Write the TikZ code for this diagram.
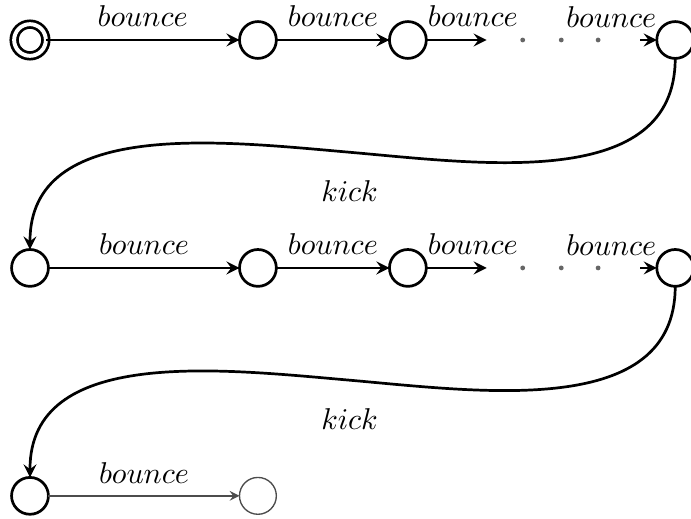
\documentclass[tikz,border=0pt]{standalone}
\usepackage{amsmath}
\usepackage{amssymb}
\usetikzlibrary{arrows,positioning}
\tikzstyle{edge}  =[->, >=stealth, line width=0.9pt]
\tikzstyle{faint} =[line width=0.45pt, draw=black!70]
\tikzstyle{state} =[draw, circle, minimum size=0.43cm,
                    line width=0.9pt, inner sep=0pt, outer sep=0pt]
\tikzstyle{lbl}   =[inner sep=2pt]

\begin{document}
\begin{tikzpicture}
\useasboundingbox (0,0) rectangle (8.064,6.057);
% first row
\node (s0) [state, double, double distance=1.3pt, minimum size=0.37cm] at (0.35,5.59) {};
\node (a1) [state] at (3.01,5.59) {};
\node (a2) [state] at (4.76,5.59) {};
\node (a3) [state] at (7.88,5.59) {};
\coordinate (a2e) at (5.68,5.59);
\coordinate (a3s) at (7.47,5.59);
% second row
\node (b0) [state] at (0.35,2.93) {};
\node (b1) [state] at (3.01,2.93) {};
\node (b2) [state] at (4.76,2.93) {};
\node (b3) [state] at (7.88,2.93) {};
\coordinate (b2e) at (5.68,2.93);
\coordinate (b3s) at (7.47,2.93);
% third row
\node (c0) [state] at (0.35,0.27) {};
\node (c1) [state, faint] at (3.01,0.27) {};
% kick turning points
\coordinate (k1) at (4.08,4.28);
\coordinate (k2) at (4.08,1.62);

\draw [edge] (s0) -- node[lbl, above=2pt] {$bounce$} (a1);
\draw [edge] (a1) -- node[lbl, above=2pt] {$bounce$} (a2);
\draw [edge] (a2) -- node[lbl, above=2pt, pos=0.77] {$bounce$} (a2e);
\draw [edge] (a3s) -- (a3);
\node [lbl, above left=2pt and -2pt of a3.west] {$bounce$};
\draw [edge] (a3.south) to[out=-90, in=-5] (k1) node[lbl, below=7pt] {$kick$}
             to[out=175, in=90] (b0.north);

\draw [edge] (b0) -- node[lbl, above=2pt] {$bounce$} (b1);
\draw [edge] (b1) -- node[lbl, above=2pt] {$bounce$} (b2);
\draw [edge] (b2) -- node[lbl, above=2pt, pos=0.77] {$bounce$} (b2e);
\draw [edge] (b3s) -- (b3);
\node [lbl, above left=2pt and -2pt of b3.west] {$bounce$};
\draw [edge] (b3.south) to[out=-90, in=-5] (k2) node[lbl, below=7pt] {$kick$}
             to[out=175, in=90] (c0.north);

\draw [edge, faint] (c0) -- node[lbl, above=2pt] {$bounce$} (c1);

\foreach \x in {6.10,6.55,6.98} {
  \foreach \y in {5.59,2.93} { \fill [black!60] (\x,\y) circle (0.8pt); }
}
\end{tikzpicture}
\end{document}
